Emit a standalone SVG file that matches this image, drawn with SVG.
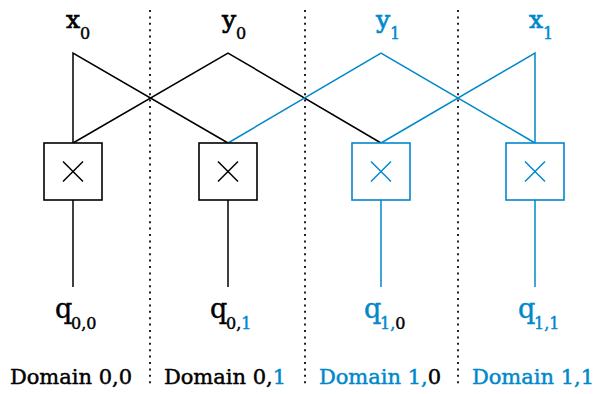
<svg xmlns="http://www.w3.org/2000/svg" width="594" height="394" viewBox="0 0 594 394">
  <style>
    .k { stroke: #000; }
    .b { stroke: #0088cc; }
    .wire { fill: none; stroke-width: 1.5; }
    .box { fill: #fff; stroke-width: 1.6; }
    .sep { stroke: #222; stroke-width: 2; stroke-dasharray: 2 4.4; }
    text { font-family: "DejaVu Serif", "Liberation Serif", serif; stroke-width: 0.45; }
    .in { font-size: 25px; text-anchor: middle; stroke-width: 0.7; }
    .sub { font-size: 16px; }
    .q { font-size: 27px; }
    .dom { font-size: 21px; text-anchor: middle; }
    .tk { fill: #000; stroke: #000; }
    .tb { fill: #0088cc; stroke: #0088cc; }
  </style>

  <!-- domain separators -->
  <g id="separators">
    <line class="sep" x1="150" y1="10" x2="150" y2="386"/>
    <line class="sep" x1="305" y1="10" x2="305" y2="386"/>
    <line class="sep" x1="458" y1="10" x2="458" y2="386"/>
  </g>

  <!-- connectors: inputs fan out to the multipliers, outputs drop down -->
  <g id="connectors" class="wire">
    <polyline class="k" points="73,143 73,53 228,143"/>
    <polyline class="k" points="73,143 228,53 381,143"/>
    <polyline class="b" points="228,143 381,53 535,143"/>
    <polyline class="b" points="381,143 535,53 535,143"/>
    <line class="k" x1="73" y1="200" x2="73" y2="287"/>
    <line class="k" x1="228" y1="200" x2="228" y2="287"/>
    <line class="b" x1="381" y1="200" x2="381" y2="287"/>
    <line class="b" x1="535" y1="200" x2="535" y2="287"/>
  </g>

  <!-- inputs -->
  <g id="in-x0"><text class="in tk" x="73" y="28">x</text><text class="sub tk" x="80" y="39">0</text></g>
  <g id="in-y0"><text class="in tk" x="229" y="28">y</text><text class="sub tk" x="236" y="39">0</text></g>
  <g id="in-y1"><text class="in tb" x="383" y="28">y</text><text class="sub tb" x="390" y="39">1</text></g>
  <g id="in-x1"><text class="in tb" x="536" y="28">x</text><text class="sub tb" x="543" y="39">1</text></g>

  <!-- multipliers -->
  <g id="mul00" class="k">
    <rect class="box" x="44" y="143" width="58" height="57"/>
    <path class="wire" d="M63,161.5 L83,181.5 M83,161.5 L63,181.5"/>
  </g>
  <g id="mul01" class="k">
    <rect class="box" x="199" y="143" width="58" height="57"/>
    <path class="wire" d="M218,161.5 L238,181.5 M238,161.5 L218,181.5"/>
  </g>
  <g id="mul10" class="b">
    <rect class="box" x="352" y="143" width="58" height="57"/>
    <path class="wire" d="M371,161.5 L391,181.5 M391,161.5 L371,181.5"/>
  </g>
  <g id="mul11" class="b">
    <rect class="box" x="506" y="143" width="58" height="57"/>
    <path class="wire" d="M525,161.5 L545,181.5 M545,161.5 L525,181.5"/>
  </g>

  <!-- outputs -->
  <g id="out-q00"><text class="q tk" x="55" y="318">q</text><text class="sub" x="71" y="329"><tspan class="tk">0,0</tspan></text></g>
  <g id="out-q01"><text class="q tk" x="210" y="318">q</text><text class="sub" x="226" y="329"><tspan class="tk">0,</tspan><tspan class="tb">1</tspan></text></g>
  <g id="out-q10"><text class="q tb" x="364" y="318">q</text><text class="sub" x="380" y="329"><tspan class="tb">1,</tspan><tspan class="tk">0</tspan></text></g>
  <g id="out-q11"><text class="q tb" x="518" y="318">q</text><text class="sub" x="534" y="329"><tspan class="tb">1,1</tspan></text></g>

  <!-- domain labels -->
  <g id="domain00"><text class="dom tk" x="71" y="384">Domain 0,0</text></g>
  <g id="domain01"><text class="dom" x="225" y="384"><tspan class="tk">Domain 0,</tspan><tspan class="tb">1</tspan></text></g>
  <g id="domain10"><text class="dom" x="380" y="384"><tspan class="tb">Domain 1,</tspan><tspan class="tk">0</tspan></text></g>
  <g id="domain11"><text class="dom tb" x="533" y="384">Domain 1,1</text></g>
</svg>
